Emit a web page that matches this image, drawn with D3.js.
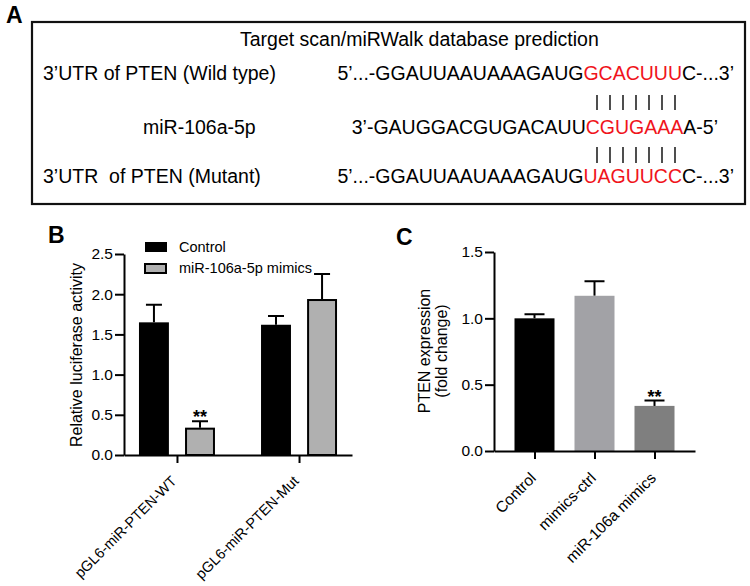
<!DOCTYPE html>
<html>
<head>
<meta charset="utf-8">
<script src="https://cdn.jsdelivr.net/npm/d3@7"></script>
<style>
  body { margin: 0; background: #fff; }
  text { font-family: "Liberation Sans", Arial, sans-serif; fill: #000; }
</style>
</head>
<body>
<div id="fig"></div>
<script>
// panel A text
var predTitle = "Target scan/miRWalk database prediction";
var rowLabels = ["3’UTR of PTEN (Wild type)", "miR-106a-5p", "3’UTR  of PTEN (Mutant)"];
var rowSeqs = [
  ["5’...-GGAUUAAUAAAGAUG", "GCACUUU", "C-...3’"],
  ["3’-GAUGGACGUGACAUU", "CGUGAAA", "A-5’"],
  ["5’...-GGAUUAAUAAAGAUG", "UAGUUCC", "C-...3’"]
];
var pairCount = 7;

// panel B data
var groupsB = ["pGL6-miR-PTEN-WT", "pGL6-miR-PTEN-Mut"];
var seriesB = ["Control", "miR-106a-5p mimics"];
var controlB = [1.65, 1.62];
var controlErrB = [0.22, 0.11];
var mimicsB = [0.34, 1.94];
var mimicsErrB = [0.08, 0.31];
var starsB = [["", "**"], ["", ""]];
var ticksB = [0, 0.5, 1.0, 1.5, 2.0, 2.5];

// panel C data
var groupsC = ["Control", "mimics-ctrl", "miR-106a mimics"];
var valuesC = [1.0, 1.17, 0.34];
var errC = [0.03, 0.11, 0.04];
var starsC = ["", "", "**"];
var ticksC = [0, 0.5, 1.0, 1.5];

var svg = d3.select("#fig").append("svg")
  .attr("width", 750)
  .attr("height", 586);

svg.append("rect").attr("width", 750).attr("height", 586).attr("fill", "#fff");

// ---------- panel A ----------
svg.append("text").attr("x", 6).attr("y", 23)
  .attr("font-size", 23).attr("font-weight", "bold").text("A");

svg.append("rect")
  .attr("x", 32).attr("y", 22).attr("width", 713).attr("height", 182)
  .attr("fill", "none").attr("stroke", "#111").attr("stroke-width", 2.2);

svg.append("text").attr("x", 240).attr("y", 46)
  .attr("font-size", 19.5).text(predTitle);

var rowY = [80, 134, 183];
var rowLabelX = [43, 143, 43];
var seqEndX = [734, 718, 734];

rowLabels.forEach(function(lab, i) {
  svg.append("text").attr("x", rowLabelX[i]).attr("y", rowY[i])
    .attr("font-size", 19.5).style("white-space", "pre").text(lab);
  var t = svg.append("text").attr("x", seqEndX[i]).attr("y", rowY[i])
    .attr("font-size", 19.5).attr("text-anchor", "end");
  rowSeqs[i].forEach(function(s, j) {
    t.append("tspan").style("fill", j == 1 ? "#f0141c" : "#000").text(s);
  });
});

// pairing bars between rows
[[95, 110], [147, 163]].forEach(function(yy) {
  d3.range(pairCount).forEach(function(k) {
    svg.append("line")
      .attr("x1", 597 + k * 13).attr("x2", 597 + k * 13)
      .attr("y1", yy[0]).attr("y2", yy[1])
      .attr("stroke", "#222").attr("stroke-width", 1.6);
  });
});

// ---------- panel B ----------
svg.append("text").attr("x", 48).attr("y", 243)
  .attr("font-size", 23).attr("font-weight", "bold").text("B");

var yB = d3.scaleLinear().domain([0, 2.5]).range([455, 254]);
var x0B = d3.scalePoint().domain(groupsB).range([124, 352]).padding(0.434);
var x1B = d3.scaleBand().domain(seriesB).range([-38, 38]).paddingInner(0.35);
var fillB = ["#000", "#b0b0b0"];

var gB = svg.append("g");
var barsB = [];
groupsB.forEach(function(g, i) {
  barsB.push({g: g, s: seriesB[0], v: controlB[i], e: controlErrB[i], star: starsB[i][0], k: 0});
  barsB.push({g: g, s: seriesB[1], v: mimicsB[i], e: mimicsErrB[i], star: starsB[i][1], k: 1});
});

gB.selectAll(".errB").data(barsB).enter().append("path")
  .attr("d", function(d) {
    var cx = x0B(d.g) + x1B(d.s) + x1B.bandwidth() / 2;
    return "M" + cx + "," + yB(d.v) + "V" + yB(d.v + d.e) + "M" + (cx - 8) + "," + yB(d.v + d.e) + "H" + (cx + 8);
  })
  .attr("stroke", "#000").attr("stroke-width", 2).attr("fill", "none");

gB.selectAll(".barB").data(barsB).enter().append("rect")
  .attr("x", function(d) { return x0B(d.g) + x1B(d.s) + (d.k ? 1 : 0); })
  .attr("y", function(d) { return yB(d.v) + (d.k ? 1 : 0); })
  .attr("width", function(d) { return x1B.bandwidth() - (d.k ? 2 : 0); })
  .attr("height", function(d) { return yB(0) - yB(d.v) - (d.k ? 1 : 0); })
  .attr("fill", function(d) { return fillB[d.k]; })
  .attr("stroke", function(d) { return d.k ? "#000" : "none"; })
  .attr("stroke-width", 2);

gB.selectAll(".starB").data(barsB.filter(function(d) { return d.star; })).enter().append("text")
  .attr("x", function(d) { return x0B(d.g) + x1B(d.s) + x1B.bandwidth() / 2; })
  .attr("y", function(d) { return yB(d.v + d.e) + 2; })
  .attr("text-anchor", "middle").attr("font-size", 18).attr("font-weight", "bold")
  .text(function(d) { return d.star; });

var yAxisB = svg.append("g").attr("transform", "translate(124,0)")
  .call(d3.axisLeft(yB).tickValues(ticksB).tickFormat(d3.format(".1f")).tickSize(9).tickSizeOuter(0).tickPadding(2));
var xAxisB = svg.append("g").attr("transform", "translate(0,455)")
  .call(d3.axisBottom(x0B).tickSize(8).tickSizeOuter(0));

[yAxisB, xAxisB].forEach(function(a) {
  a.selectAll("path,line").attr("stroke", "#000").attr("stroke-width", 2);
  a.selectAll("text").attr("font-size", 15.5).attr("fill", "#000")
    .style("font-family", "'Liberation Sans', Arial, sans-serif");
});
xAxisB.selectAll("text")
  .attr("x", 0).attr("y", 0).attr("dy", 0)
  .attr("font-size", 14.5)
  .attr("text-anchor", "end")
  .attr("transform", "translate(0,27) rotate(-45)");

svg.append("text")
  .attr("transform", "translate(82,355) rotate(-90)")
  .attr("text-anchor", "middle").attr("font-size", 16)
  .text("Relative luciferase activity");

// legend B
var legB = svg.append("g");
seriesB.forEach(function(s, i) {
  legB.append("rect")
    .attr("x", 145).attr("y", 242 + i * 21 + (i ? 1 : 0))
    .attr("width", 22 - (i ? 1 : 0)).attr("height", 10 - (i ? 1 : 0))
    .attr("fill", fillB[i]).attr("stroke", i ? "#000" : "none").attr("stroke-width", 2);
  legB.append("text").attr("x", 179).attr("y", 252 + i * 21)
    .attr("font-size", 14.5).text(s);
});

// ---------- panel C ----------
svg.append("text").attr("x", 396).attr("y", 245)
  .attr("font-size", 23).attr("font-weight", "bold").text("C");

var yC = d3.scaleLinear().domain([0, 1.5]).range([451, 252]);
var xC = d3.scalePoint().domain(groupsC).range([494, 695]).padding(0.675);
var fillC = ["#000", "#a2a2a6", "#7f7f7f"];

var gC = svg.append("g");
gC.selectAll(".errC").data(groupsC).enter().append("path")
  .attr("d", function(d, i) {
    var cx = xC(d);
    return "M" + cx + "," + yC(valuesC[i]) + "V" + yC(valuesC[i] + errC[i]) + "M" + (cx - 10) + "," + yC(valuesC[i] + errC[i]) + "H" + (cx + 10);
  })
  .attr("stroke", "#000").attr("stroke-width", 2).attr("fill", "none");

gC.selectAll(".barC").data(groupsC).enter().append("rect")
  .attr("x", function(d) { return xC(d) - 20; })
  .attr("y", function(d, i) { return yC(valuesC[i]); })
  .attr("width", 40)
  .attr("height", function(d, i) { return yC(0) - yC(valuesC[i]); })
  .attr("fill", function(d, i) { return fillC[i]; });

gC.selectAll(".starC").data(groupsC).enter().append("text")
  .attr("x", function(d) { return xC(d); })
  .attr("y", function(d, i) { return yC(valuesC[i] + errC[i]) + 2; })
  .attr("text-anchor", "middle").attr("font-size", 18).attr("font-weight", "bold")
  .text(function(d, i) { return starsC[i]; });

var yAxisC = svg.append("g").attr("transform", "translate(494,0)")
  .call(d3.axisLeft(yC).tickValues(ticksC).tickFormat(d3.format(".1f")).tickSize(9).tickSizeOuter(0).tickPadding(2));
var xAxisC = svg.append("g").attr("transform", "translate(0,451)")
  .call(d3.axisBottom(xC).tickSize(8).tickSizeOuter(0));

[yAxisC, xAxisC].forEach(function(a) {
  a.selectAll("path,line").attr("stroke", "#000").attr("stroke-width", 2);
  a.selectAll("text").attr("font-size", 15.5).attr("fill", "#000")
    .style("font-family", "'Liberation Sans', Arial, sans-serif");
});
xAxisC.selectAll("text")
  .attr("x", 0).attr("y", 0).attr("dy", 0)
  .attr("text-anchor", "end")
  .attr("transform", "translate(2,28) rotate(-45)");

var yTitleC = svg.append("text")
  .attr("transform", "translate(430,351) rotate(-90)")
  .attr("text-anchor", "middle").attr("font-size", 16);
yTitleC.append("tspan").attr("x", 0).attr("dy", 0).text("PTEN expression");
yTitleC.append("tspan").attr("x", 0).attr("dy", 17).text("(fold change)");
</script>
</body>
</html>
